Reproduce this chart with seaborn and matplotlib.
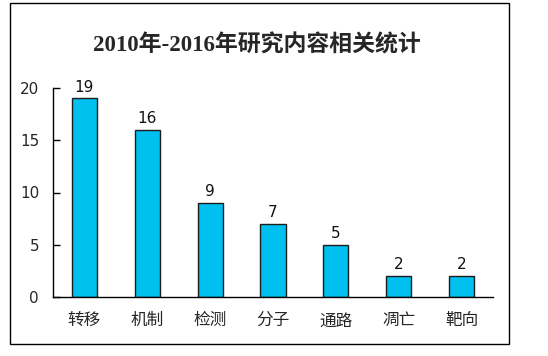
import matplotlib
matplotlib.use("Agg")
import matplotlib.pyplot as plt
import seaborn as sns
import pandas as pd
from matplotlib.patches import Rectangle
from matplotlib.ticker import FixedLocator

# chart data
categories = ["转移", "机制", "检测", "分子", "通路", "凋亡", "靶向"]
counts = [19, 16, 9, 7, 5, 2, 2]
y_ticks = [0, 5, 10, 15, 20]
title = "2010年-2016年研究内容相关统计"

sns.set_style("white")
plt.rcParams['font.family'] = ['DejaVu Sans', 'Noto Sans CJK SC']

df = pd.DataFrame({"content": categories, "count": counts})

fig = plt.figure(figsize=(5.48, 3.56), dpi=100)
ax = fig.add_axes([53 / 548, 59 / 356, 440 / 548, 209 / 356])

sns.barplot(data=df, x="content", y="count", color="#00C0F0", width=0.4,
            edgecolor="#1c1c1c", linewidth=1.0, saturation=1, ax=ax)

# value labels above bars
for i, v in enumerate(counts):
    ax.text(i, v + 0.35, str(v), ha="center", va="bottom", fontsize=11,
            family=['DejaVu Sans'], color="#111111")

ax.set_xlim(-0.5, len(categories) - 0.5)
ax.set_ylim(0, 20)
ax.set_yticks(y_ticks)
ax.set_xlabel("")
ax.set_ylabel("")

# ticks between categories, pointing inward
ax.xaxis.set_minor_locator(FixedLocator([i - 0.5 for i in range(len(categories) + 1)]))
ax.tick_params(axis="x", which="major", length=0, pad=11, labelsize=12)
ax.tick_params(axis="x", which="minor", direction="in", length=5, width=1, color="black")
ax.tick_params(axis="y", direction="in", length=5, width=1, color="black",
               pad=10, labelsize=11, left=True)
for lab in ax.get_xticklabels():
    lab.set_family(['Noto Sans CJK SC', 'DejaVu Sans'])

sns.despine(ax=ax)
for s in ["left", "bottom"]:
    ax.spines[s].set_color("black")
    ax.spines[s].set_linewidth(1.0)

# outer border of chart area
fig.patches.append(Rectangle((10 / 548, 12 / 356), 499 / 548, 341 / 356,
                             transform=fig.transFigure, fill=False,
                             edgecolor="black", linewidth=1.0))

fig.text(257 / 548, 1 - 45 / 356, title, ha="center", va="center",
         fontsize=16.5, fontweight="bold",
         family=['Liberation Serif', 'Noto Sans CJK SC'])

fig.savefig("out.png", dpi=100)
